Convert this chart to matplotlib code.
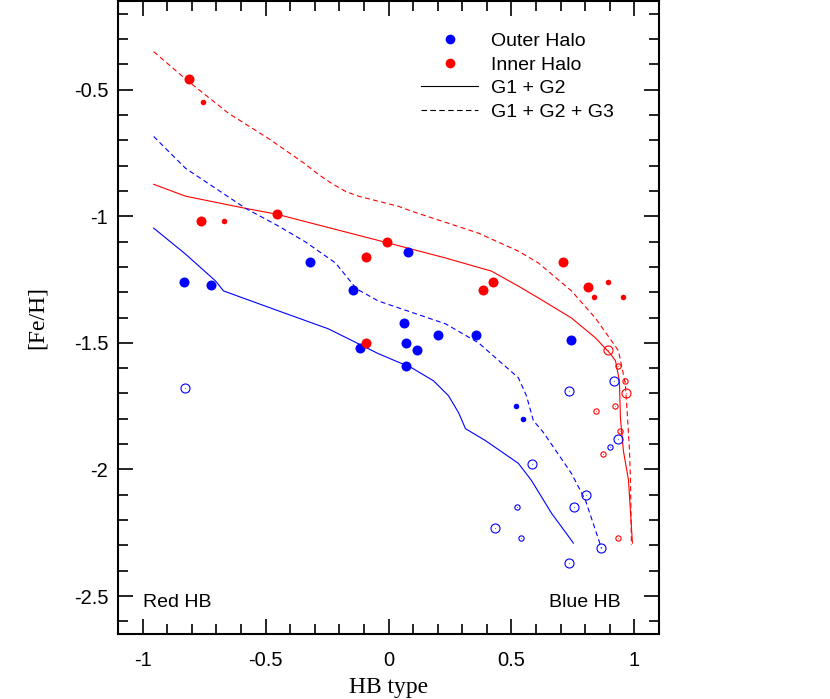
import matplotlib
matplotlib.use("Agg")
import matplotlib.pyplot as plt
from matplotlib.lines import Line2D
from matplotlib.ticker import MultipleLocator, FixedLocator

# ---- data ----
outer_big_x = [-0.83, -0.72, -0.32, -0.146, 0.081, 0.065, -0.114, 0.073, 0.114, 0.073, 0.203, 0.354, 0.744]
outer_big_y = [-1.26, -1.27, -1.18, -1.29, -1.14, -1.42, -1.52, -1.50, -1.53, -1.59, -1.47, -1.47, -1.49]
outer_small_x = [0.52, 0.545]
outer_small_y = [-1.75, -1.80]

inner_big_x = [-0.813, -0.764, -0.455, -0.008, -0.091, -0.093, 0.386, 0.423, 0.71, 0.813]
inner_big_y = [-0.46, -1.02, -0.99, -1.10, -1.16, -1.50, -1.29, -1.26, -1.18, -1.28]
inner_small_x = [-0.756, -0.667, 0.894, 0.835, 0.955]
inner_small_y = [-0.55, -1.02, -1.26, -1.32, -1.32]

outer_open_big_x = [-0.829, 0.732, 0.915, 0.935, 0.585, 0.805, 0.756, 0.435, 0.866, 0.736]
outer_open_big_y = [-1.68, -1.69, -1.65, -1.88, -1.98, -2.10, -2.15, -2.23, -2.31, -2.37]
outer_open_small_x = [0.902, 0.524, 0.537]
outer_open_small_y = [-1.91, -2.15, -2.27]

inner_open_big_x = [0.894, 0.967]
inner_open_big_y = [-1.53, -1.70]
inner_open_small_x = [0.935, 0.963, 0.845, 0.923, 0.943, 0.874, 0.935]
inner_open_small_y = [-1.59, -1.65, -1.77, -1.75, -1.85, -1.94, -2.27]

red_g123_x = [-0.955, -0.817, -0.650, -0.488, -0.337, -0.285, -0.232, -0.175, -0.122, 0.041, 0.093,
              0.366, 0.528, 0.610, 0.744, 0.841, 0.907, 0.935, 0.963, 0.972, 0.980, 0.984, 0.988]
red_g123_y = [-0.350, -0.465, -0.594, -0.693, -0.795, -0.835, -0.870, -0.902, -0.921, -0.961, -0.980,
              -1.067, -1.138, -1.185, -1.295, -1.402, -1.492, -1.531, -1.661, -1.795, -1.925, -2.043, -2.299]

red_g12_x = [-0.955, -0.825, -0.581, -0.455, 0.0, 0.232, 0.419, 0.528, 0.610, 0.744, 0.841, 0.902,
             0.923, 0.939, 0.943, 0.955, 0.976, 0.992]
red_g12_y = [-0.874, -0.921, -0.969, -0.992, -1.106, -1.165, -1.217, -1.276, -1.323, -1.402, -1.480,
             -1.543, -1.571, -1.650, -1.795, -1.925, -2.043, -2.291]

blue_g123_x = [-0.955, -0.825, -0.581, -0.447, -0.337, -0.215, -0.130, -0.041, 0.232, 0.366, 0.528,
               0.561, 0.589, 0.630, 0.744, 0.801, 0.866]
blue_g123_y = [-0.685, -0.811, -0.969, -1.039, -1.102, -1.185, -1.287, -1.335, -1.425, -1.500, -1.638,
               -1.709, -1.807, -1.854, -2.016, -2.122, -2.311]

blue_g12_x = [-0.955, -0.825, -0.703, -0.671, -0.447, -0.244, -0.041, 0.093, 0.183, 0.244, 0.285,
              0.313, 0.394, 0.528, 0.581, 0.663, 0.752]
blue_g12_y = [-1.047, -1.150, -1.256, -1.295, -1.374, -1.445, -1.543, -1.598, -1.650, -1.709, -1.776,
              -1.839, -1.886, -1.976, -2.043, -2.173, -2.291]

xticks = [-1, -0.5, 0, 0.5, 1]
xtick_labels = ["-1", "-0.5", "0", "0.5", "1"]
yticks = [-2.5, -2, -1.5, -1, -0.5]
ytick_labels = ["-2.5", "-2", "-1.5", "-1", "-0.5"]

BLUE = "#0000ff"
RED = "#ff0000"
SANS = ["Liberation Sans", "DejaVu Sans"]
SERIF = ["Liberation Serif", "DejaVu Serif"]
DASH = (0, (4.5, 3))

fig = plt.figure(figsize=(8.30, 6.99), dpi=100)
ax = fig.add_axes([118/830, 1 - 634/699, (659-118)/830, (634-1)/699])

ax.set_xlim(-1.1, 1.1)
ax.set_ylim(-2.65, -0.15)

# curves
ax.plot(red_g123_x, red_g123_y, color=RED, lw=0.8, ls=DASH)
ax.plot(red_g12_x, red_g12_y, color=RED, lw=0.8)
ax.plot(blue_g123_x, blue_g123_y, color=BLUE, lw=0.8, ls=DASH)
ax.plot(blue_g12_x, blue_g12_y, color=BLUE, lw=0.8)

# filled points
ax.plot(outer_big_x, outer_big_y, 'o', color=BLUE, ms=7.2, mec='none')
ax.plot(outer_small_x, outer_small_y, 'o', color=BLUE, ms=4.0, mec='none')
ax.plot(inner_big_x, inner_big_y, 'o', color=RED, ms=7.2, mec='none')
ax.plot(inner_small_x, inner_small_y, 'o', color=RED, ms=4.0, mec='none')

# open points (with tiny centre dot)
for xs, ys, col, ms in [(outer_open_big_x, outer_open_big_y, BLUE, 6.5),
                        (outer_open_small_x, outer_open_small_y, BLUE, 3.8),
                        (inner_open_big_x, inner_open_big_y, RED, 6.5),
                        (inner_open_small_x, inner_open_small_y, RED, 3.8)]:
    ax.plot(xs, ys, 'o', mfc='none', mec=col, ms=ms, mew=0.8)
    ax.plot(xs, ys, 'o', color=col, ms=0.8, mec='none', alpha=0.6)

# ticks
ax.xaxis.set_major_locator(FixedLocator(xticks))
ax.yaxis.set_major_locator(FixedLocator(yticks))
ax.xaxis.set_minor_locator(MultipleLocator(0.1))
ax.yaxis.set_minor_locator(MultipleLocator(0.1))
ax.set_xticklabels(xtick_labels, family=SANS, fontsize=14.5)
ax.set_yticklabels(ytick_labels, family=SANS, fontsize=14.5)
ax.tick_params(which='both', direction='in', top=True, right=True, width=1.2, colors='black')
ax.tick_params(which='major', length=11)
ax.tick_params(which='minor', length=7)
ax.tick_params(axis='x', which='major', pad=12)
ax.tick_params(axis='y', which='major', pad=7)
for s in ax.spines.values():
    s.set_linewidth(1.5)

ax.set_xlabel("HB type", family=SERIF, fontsize=17, labelpad=5)
ax.set_ylabel("[Fe/H]", family=SERIF, fontsize=17, labelpad=19)

ax.text(-1.0, -2.527, "Red HB", family=SANS, fontsize=14, ha='left', va='center')
ax.text(0.945, -2.527, "Blue HB", family=SANS, fontsize=14, ha='right', va='center')

handles = [
    Line2D([], [], ls='none', marker='o', color=BLUE, ms=7, mec='none'),
    Line2D([], [], ls='none', marker='o', color=RED, ms=7, mec='none'),
    Line2D([], [], color='black', lw=0.8),
    Line2D([], [], color='black', lw=0.8, ls=(0, (5, 3))),
]
labels = ["Outer Halo", "Inner Halo", "G1 + G2", "G1 + G2 + G3"]
ax.legend(handles, labels, loc='upper left', bbox_to_anchor=(0.560, 0.950), frameon=False,
          prop={'family': SANS, 'size': 14}, handlelength=2.95, handletextpad=0.67,
          labelspacing=0.3, borderpad=0, borderaxespad=0)

fig.savefig("out.png", dpi=100)
